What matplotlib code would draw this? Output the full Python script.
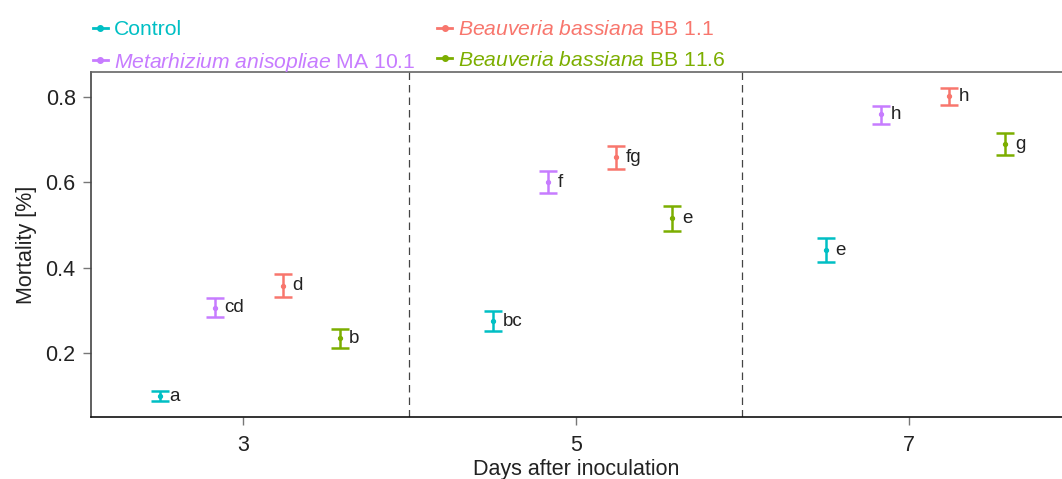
import numpy as np
import matplotlib.pyplot as plt
from matplotlib.lines import Line2D

plt.rcParams['font.family'] = ['Liberation Sans', 'DejaVu Sans']
plt.rcParams['mathtext.fontset'] = 'custom'
plt.rcParams['mathtext.rm'] = 'Liberation Sans'
plt.rcParams['mathtext.it'] = 'Liberation Sans:italic'

days = [3, 5, 7]
groups = ['Control', 'MA 10.1', 'BB 1.1', 'BB 11.6']
labels = ['Control',
          r'$\mathit{Metarhizium\ anisopliae}$ MA 10.1',
          r'$\mathit{Beauveria\ bassiana}$ BB 1.1',
          r'$\mathit{Beauveria\ bassiana}$ BB 11.6']
colors = ['#00BFC4', '#C77CFF', '#F8766D', '#7CAE00']
dodge = [-0.5, -0.17, 0.24, 0.58]

# mean mortality per group (rows) and day (columns)
means = [[0.099, 0.275, 0.441],
         [0.306, 0.601, 0.760],
         [0.358, 0.659, 0.802],
         [0.235, 0.516, 0.690]]
lower = [[0.088, 0.252, 0.414],
         [0.285, 0.575, 0.737],
         [0.331, 0.631, 0.781],
         [0.212, 0.486, 0.664]]
upper = [[0.111, 0.298, 0.470],
         [0.329, 0.628, 0.779],
         [0.385, 0.685, 0.821],
         [0.256, 0.544, 0.716]]
letters = [['a', 'bc', 'e'],
           ['cd', 'f', 'h'],
           ['d', 'fg', 'h'],
           ['b', 'e', 'g']]

fig = plt.figure(figsize=(10.62, 4.79), dpi=100)
ax = fig.add_axes([0.0857, 0.1294, 0.9143, 0.7203])

for g in range(4):
    x = np.array(days) + dodge[g]
    m = np.array(means[g])
    err = [m - np.array(lower[g]), np.array(upper[g]) - m]
    ax.errorbar(x, m, yerr=err, fmt='o', color=colors[g], ms=2.8,
                elinewidth=1.8, capsize=6.5, capthick=1.8)
    for i in range(3):
        ax.annotate(letters[g][i], (x[i], m[i]), xytext=(7, 0),
                    textcoords='offset points', ha='left', va='center',
                    fontsize=13.5, color='#222222')

for d in [4, 6]:
    ax.axvline(d, color='#444444', linestyle=(0, (6, 4)), linewidth=0.9)

ax.set_xlim(2.087, 7.92)
ax.set_ylim(0.05, 0.859)
ax.set_xticks(days)
ax.set_yticks([0.2, 0.4, 0.6, 0.8])
ax.set_yticklabels(['0.2', '0.4', '0.6', '0.8'])
ax.tick_params(labelsize=15.5, colors='#222222', length=6, width=1,
               color='#777777')
ax.tick_params(axis='x', pad=7)
ax.tick_params(axis='y', pad=5)
for s in ['left', 'bottom', 'top']:
    ax.spines[s].set_linewidth(1.2)
ax.spines['top'].set_color('#666666')
ax.spines['left'].set_color('#444444')
ax.spines['bottom'].set_color('#111111')
ax.spines['right'].set_visible(False)

ax.set_xlabel('Days after inoculation', fontsize=15.5, color='#222222', labelpad=2)
ax.set_ylabel('Mortality [%]', fontsize=15.5, color='#222222', labelpad=6)

handles = [Line2D([0], [0], color=c, marker='o', ms=4, lw=2) for c in colors]
fig.legend(handles, labels, loc='upper left', bbox_to_anchor=(0.0695, 0.998),
           ncol=2, frameon=False, fontsize=15.2, labelcolor='linecolor',
           handlelength=0.7, handletextpad=0.3, columnspacing=1.03,
           labelspacing=0.55)

fig.savefig('out.png', dpi=100)
